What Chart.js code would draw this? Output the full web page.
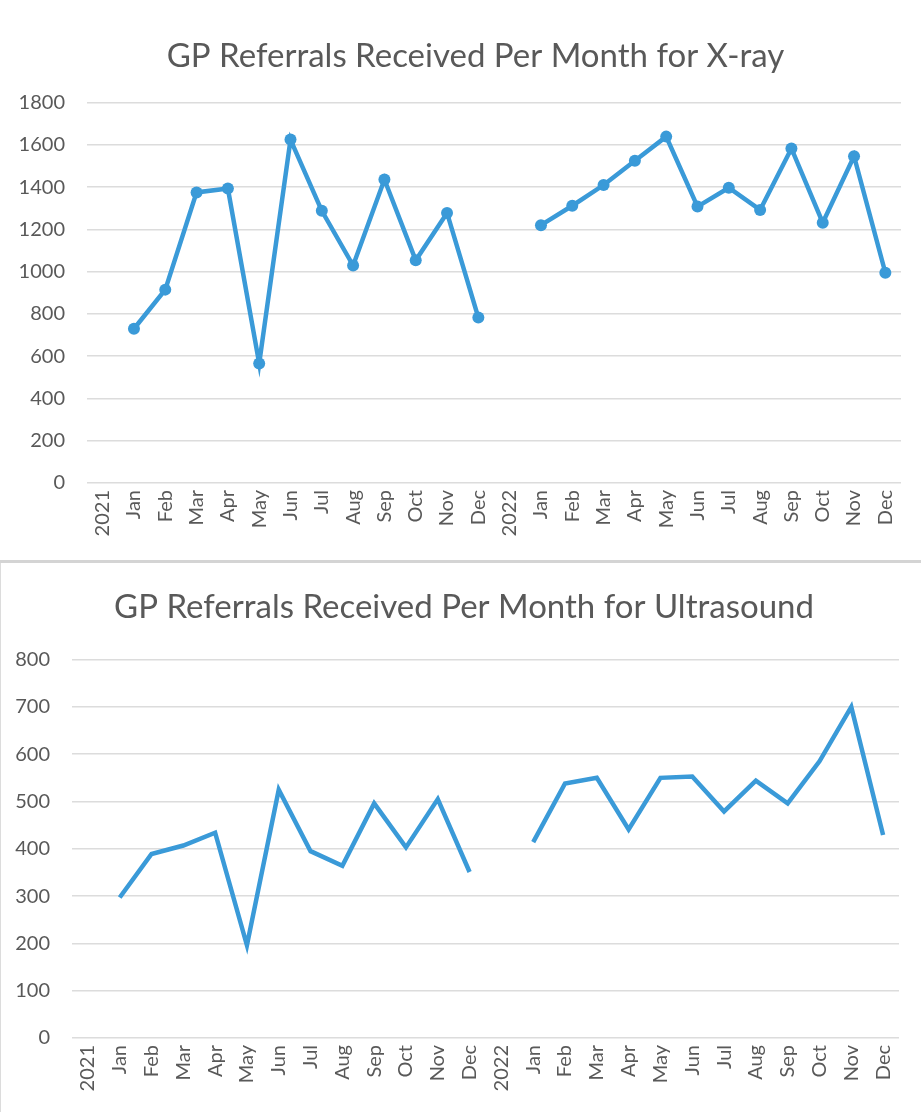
<!DOCTYPE html>
<html>
<head>
<meta charset="utf-8">
<script src="https://cdn.jsdelivr.net/npm/chart.js@4"></script>
<style>
  body { margin: 0; background: #fff; width: 921px; overflow: hidden; }
  #top { height: 560px; position: relative; }
  #sep { height: 3px; background: #d4d4d4; }
  #bottom { height: 549px; position: relative; border-left: 1px solid #dcdcdc; box-sizing: border-box; }
</style>
</head>
<body>
<div id="top"><canvas id="xray-chart" width="921" height="560"></canvas></div>
<div id="sep"></div>
<div id="bottom"><canvas id="us-chart" width="920" height="549"></canvas></div>
<script>
/*data*/
let months = ['Jan', 'Feb', 'Mar', 'Apr', 'May', 'Jun', 'Jul', 'Aug', 'Sep', 'Oct', 'Nov', 'Dec'];
let years = ['2021', '2022'];

let xray2021 = [730, 915, 1375, 1393, 566, 1625, 1288, 1029, 1436, 1054, 1278, 783];
let xray2022 = [1220, 1312, 1410, 1525, 1639, 1308, 1397, 1292, 1583, 1232, 1546, 995];

let ultrasound2021 = [297, 389, 407, 434, 196, 525, 395, 364, 496, 403, 505, 351];
let ultrasound2022 = [414, 538, 550, 441, 550, 553, 479, 544, 496, 585, 700, 429];
/**/

let lineColor = '#3a9ad8';
let textColor = '#595959';
let fontName = 'Lato, "Open Sans", sans-serif';

// year label sits in its own slot, with a null so the line breaks there
function buildLabels() {
    let labels = [];
    years.forEach(y => {
        labels.push(y);
        months.forEach(m => labels.push(m));
    });
    return labels;
}

function buildSeries(first, second) {
    return [null].concat(first, [null], second);
}

function makeChart(canvas, opts) {
    return new Chart(canvas, {
        type: 'line',
        data: {
            labels: buildLabels(),
            datasets: [{
                data: buildSeries(opts.first, opts.second),
                borderColor: lineColor,
                backgroundColor: lineColor,
                borderWidth: 4.5,
                pointRadius: opts.pointRadius,
                pointBorderWidth: 0,
                spanGaps: false,
                tension: 0
            }]
        },
        options: {
            responsive: false,
            animation: false,
            devicePixelRatio: 1,
            layout: {
                padding: { left: 0, right: opts.rightPad, top: 0, bottom: 0 }
            },
            plugins: {
                legend: { display: false },
                tooltip: { enabled: false },
                title: {
                    display: true,
                    text: opts.title,
                    color: textColor,
                    font: { family: fontName, size: 33, weight: 'normal' },
                    padding: { top: opts.titleTop, bottom: opts.titleBottom }
                }
            },
            scales: {
                x: {
                    offset: true,
                    grid: { display: false, drawTicks: false },
                    border: { display: false },
                    ticks: {
                        color: textColor,
                        font: { family: fontName, size: 20 },
                        minRotation: 90,
                        maxRotation: 90,
                        autoSkip: false,
                        padding: 7
                    },
                    afterFit: scale => { scale.height = opts.xHeight; }
                },
                y: {
                    min: 0,
                    max: opts.max,
                    grid: { color: '#dcdcdc', lineWidth: 1.5, drawTicks: false },
                    border: { display: false },
                    ticks: {
                        stepSize: opts.step,
                        color: textColor,
                        font: { family: fontName, size: 20 },
                        padding: 22,
                        callback: v => String(v)
                    },
                    afterFit: scale => { scale.width = opts.yWidth; }
                }
            }
        },
        plugins: [{
            // the title in the picture sits a bit right of the canvas centre
            id: 'titleShift',
            afterLayout: chart => {
                chart.titleBlock.left += opts.titleShift;
                chart.titleBlock.right += opts.titleShift;
            }
        }]
    });
}

window.onload = function() {
    makeChart(document.getElementById('xray-chart'), {
        title: 'GP Referrals Received Per Month for X-ray',
        first: xray2021,
        second: xray2022,
        max: 1800,
        step: 200,
        pointRadius: 6,
        titleTop: 37,
        titleBottom: 26,
        titleShift: 25,
        xHeight: 77,
        yWidth: 87,
        rightPad: 20
    });
    makeChart(document.getElementById('us-chart'), {
        title: 'GP Referrals Received Per Month for Ultrasound',
        first: ultrasound2021,
        second: ultrasound2022,
        max: 800,
        step: 100,
        pointRadius: 0,
        titleTop: 25,
        titleBottom: 32,
        titleShift: 14,
        xHeight: 74,
        yWidth: 71,
        rightPad: 22
    });
}
</script>
</body>
</html>
